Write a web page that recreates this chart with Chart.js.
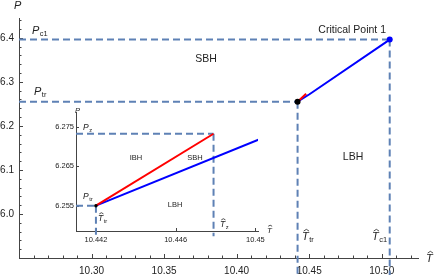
<!DOCTYPE html>
<html>
<head>
<meta charset="utf-8">
<script src="https://cdn.jsdelivr.net/npm/chart.js@4.4.1/dist/chart.umd.min.js"></script>
<style>
html, body { margin: 0; padding: 0; background: #fff; }
#wrap { position: relative; width: 436px; height: 275px; }
#main { position: absolute; left: 0; top: 0; }
#inset { position: absolute; left: 40px; top: 100px; }
</style>
</head>
<body>
<div id="wrap">
<canvas id="main" width="436" height="275"></canvas>
<canvas id="inset" width="240" height="150"></canvas>
</div>
<script>
// special points (T, P)
var tTr = 10.442, pTr = 6.255;     // triple point
var tZ = 10.4479, pZ = 6.2732;     // end of the red curve
var tC1 = 10.5055, pC1 = 6.396;    // critical point 1

// coexistence curves
var redT = [10.442, 10.4479];
var redP = [6.255, 6.2732];
var blueT = [10.442, 10.4502, 10.5055];
var blueP = [6.255, 6.2718, 6.396];

// main axes
var xRange = [10.25, 10.525];
var yRange = [5.9, 6.445];
var xTicks = [10.30, 10.35, 10.40, 10.45, 10.50];
var yTicks = [6.0, 6.1, 6.2, 6.3, 6.4];
var dropMain = 5.861;

// inset axes
var insetX = [10.441, 10.45013];
var insetY = [6.2486, 6.2787];
var insetXTicks = [10.442, 10.446, 10.45];
var insetYTicks = [6.255, 6.265, 6.275];
var dropInset = 6.2473;

var dashBlue = '#5e81b5';
var axisColor = '#444';
var textColor = '#222';
var FONT = '"Liberation Sans", Arial, sans-serif';

function pts(xs, ys) {
    return xs.map(function (x, i) { return { x: x, y: ys[i] }; });
}

// minor ticks (Mathematica style)
var xMinor = [];
for (var k = 1026; k <= 1052; k++) if (k % 5 !== 0) xMinor.push(k / 100);
var yMinor = [];
for (var k = 592; k <= 644; k += 2) if (k % 10 !== 0) yMinor.push(k / 100);

// ticks pointing into the plot
var inTicks = {
    id: 'inTicks',
    beforeDatasetsDraw: function (chart, args, o) {
        var ctx = chart.ctx, a = chart.chartArea;
        var sx = chart.scales.x, sy = chart.scales.y;
        ctx.save();
        ctx.strokeStyle = axisColor;
        ctx.lineWidth = 1;
        ctx.beginPath();
        function xt(list, len) {
            list.forEach(function (v) {
                var p = Math.round(sx.getPixelForValue(v)) + 0.5;
                ctx.moveTo(p, a.bottom); ctx.lineTo(p, a.bottom - len);
            });
        }
        function yt(list, len) {
            list.forEach(function (v) {
                var p = Math.round(sy.getPixelForValue(v)) + 0.5;
                ctx.moveTo(a.left, p); ctx.lineTo(a.left + len, p);
            });
        }
        xt(o.xMajor, o.major); yt(o.yMajor, o.major);
        xt(o.xMinor || [], o.minor); yt(o.yMinor || [], o.minor);
        ctx.stroke();
        ctx.restore();
    }
};

// text annotations: plain text or italic symbol with subscript and hat
var notes = {
    id: 'notes',
    afterDraw: function (chart, args, o) {
        var ctx = chart.ctx;
        ctx.save();
        ctx.fillStyle = textColor;
        o.items.forEach(function (it) {
            if (!it.sym) {
                ctx.font = it.size + 'px ' + FONT;
                ctx.textAlign = it.align || 'center';
                ctx.textBaseline = it.base || 'middle';
                ctx.fillText(it.text, it.x, it.y);
                return;
            }
            ctx.textAlign = 'left';
            ctx.textBaseline = 'alphabetic';
            ctx.font = 'italic ' + it.size + 'px ' + FONT;
            ctx.fillText(it.sym, it.x, it.y);
            var w = ctx.measureText(it.sym).width;
            if (it.hat) {
                var cap = it.size * 0.72;
                ctx.beginPath();
                ctx.strokeStyle = textColor;
                ctx.lineWidth = 0.8;
                ctx.moveTo(it.x + w * 0.25, it.y - cap - 1);
                ctx.lineTo(it.x + w * 0.65, it.y - cap - it.size * 0.25);
                ctx.lineTo(it.x + w * 1.05, it.y - cap - 1);
                ctx.stroke();
            }
            if (it.sub) {
                ctx.font = (it.size * 0.68) + 'px ' + FONT;
                ctx.fillText(it.sub, it.x + w + 0.5, it.y + it.size * 0.22);
            }
        });
        ctx.restore();
    }
};

function guide(data, clip) {
    return {
        data: data, showLine: true, pointRadius: 0, borderColor: dashBlue,
        borderWidth: 2, borderDash: [7, 4], clip: clip ? false : undefined
    };
}
function curve(data, color) {
    return { data: data, showLine: true, pointRadius: 0, borderColor: color, borderWidth: 2 };
}
function dot(data, color, r) {
    return { data: data, showLine: false, pointRadius: r, pointBackgroundColor: color, pointBorderWidth: 0 };
}

new Chart(document.getElementById('main'), {
    type: 'scatter',
    data: {
        datasets: [
            dot(pts([tTr], [pTr]), '#000', 3),
            dot(pts([tC1], [pC1]), '#0000ff', 3),
            curve(pts(redT, redP), '#ff0000'),
            curve(pts(blueT, blueP), '#0000ff'),
            guide(pts([xRange[0], tC1], [pC1, pC1])),
            guide(pts([xRange[0], tTr], [pTr, pTr])),
            guide(pts([tTr, tTr], [pTr, dropMain]), true),
            guide(pts([tC1, tC1], [pC1, dropMain]), true)
        ]
    },
    options: {
        responsive: false,
        animation: false,
        events: [],
        layout: { padding: { top: 18, right: 18, left: 0, bottom: 0 } },
        scales: {
            x: {
                type: 'linear', min: xRange[0], max: xRange[1],
                afterBuildTicks: function (s) { s.ticks = xTicks.map(function (v) { return { value: v }; }); },
                afterFit: function (s) { s.height = 17; },
                grid: { display: false, drawTicks: false },
                border: { display: true, color: axisColor, width: 1 },
                ticks: {
                    padding: 7, color: textColor, maxRotation: 0, autoSkip: false,
                    font: { family: FONT, size: 10 },
                    callback: function (v) { return v.toFixed(2); }
                }
            },
            y: {
                type: 'linear', min: yRange[0], max: yRange[1],
                afterBuildTicks: function (s) { s.ticks = yTicks.map(function (v) { return { value: v }; }); },
                afterFit: function (s) { s.width = 19; },
                grid: { display: false, drawTicks: false },
                border: { display: true, color: axisColor, width: 1 },
                ticks: {
                    padding: 5, color: textColor, autoSkip: false,
                    font: { family: FONT, size: 10 },
                    callback: function (v) { return v.toFixed(1); }
                }
            }
        },
        plugins: {
            legend: { display: false },
            tooltip: { enabled: false },
            inTicks: { xMajor: xTicks, yMajor: yTicks, xMinor: xMinor, yMinor: yMinor, major: 4, minor: 2.5 },
            notes: {
                items: [
                    { sym: 'P', x: 14, y: 9, size: 11 },
                    { sym: 'P', sub: 'c1', x: 32, y: 34, size: 11 },
                    { sym: 'P', sub: 'tr', x: 34, y: 95, size: 11 },
                    { text: 'SBH', x: 206, y: 59, size: 10.5 },
                    { text: 'Critical Point 1', x: 386, y: 33, size: 10.5, align: 'right', base: 'alphabetic' },
                    { text: 'LBH', x: 353, y: 157, size: 10.5 },
                    { sym: 'T', hat: true, sub: 'tr', x: 302, y: 240, size: 11 },
                    { sym: 'T', hat: true, sub: 'c1', x: 372, y: 240, size: 11 },
                    { sym: 'T', hat: true, x: 426, y: 262, size: 11 }
                ]
            }
        }
    },
    plugins: [inTicks, notes]
});

new Chart(document.getElementById('inset'), {
    type: 'scatter',
    data: {
        datasets: [
            dot(pts([tTr], [pTr]), '#000', 1.8),
            curve(pts(redT, redP), '#ff0000'),
            curve(pts(blueT, blueP), '#0000ff'),
            guide(pts([insetX[0], tZ], [pZ, pZ])),
            guide(pts([insetX[0], tTr], [pTr, pTr])),
            guide(pts([tZ, tZ], [pZ, dropInset]), true),
            guide(pts([tTr, tTr], [pTr, dropInset]), true)
        ]
    },
    options: {
        responsive: false,
        animation: false,
        events: [],
        layout: { padding: { top: 12, right: 22, left: 0, bottom: 0 } },
        scales: {
            x: {
                type: 'linear', min: insetX[0], max: insetX[1],
                afterBuildTicks: function (s) { s.ticks = insetXTicks.map(function (v) { return { value: v }; }); },
                afterFit: function (s) { s.height = 19; },
                grid: { display: false, drawTicks: false },
                border: { display: true, color: axisColor, width: 1 },
                ticks: {
                    padding: 4, color: textColor, maxRotation: 0, autoSkip: false,
                    font: { family: FONT, size: 7.5 },
                    callback: function (v) { return String(Number(v.toFixed(3))); }
                }
            },
            y: {
                type: 'linear', min: insetY[0], max: insetY[1],
                afterBuildTicks: function (s) { s.ticks = insetYTicks.map(function (v) { return { value: v }; }); },
                afterFit: function (s) { s.width = 36; },
                grid: { display: false, drawTicks: false },
                border: { display: true, color: axisColor, width: 1 },
                ticks: {
                    padding: 2, color: textColor, autoSkip: false,
                    font: { family: FONT, size: 7.5 },
                    callback: function (v) { return String(Number(v.toFixed(3))); }
                }
            }
        },
        plugins: {
            legend: { display: false },
            tooltip: { enabled: false },
            inTicks: { xMajor: insetXTicks, yMajor: insetYTicks, major: 3, minor: 0 },
            notes: {
                items: [
                    { sym: 'P', x: 35, y: 13, size: 7.5 },
                    { sym: 'P', sub: 'z', x: 43, y: 30, size: 8.5 },
                    { sym: 'P', sub: 'tr', x: 43, y: 99, size: 8.5 },
                    { text: 'IBH', x: 96, y: 58, size: 7.5 },
                    { text: 'SBH', x: 155, y: 58, size: 7.5 },
                    { text: 'LBH', x: 135, y: 104.5, size: 7.5 },
                    { sym: 'T', hat: true, sub: 'tr', x: 58, y: 121, size: 8.5 },
                    { sym: 'T', hat: true, sub: 'z', x: 180, y: 127, size: 8.5 },
                    { sym: 'T', hat: true, x: 227, y: 133, size: 8 }
                ]
            }
        }
    },
    plugins: [inTicks, notes]
});
</script>
</body>
</html>
